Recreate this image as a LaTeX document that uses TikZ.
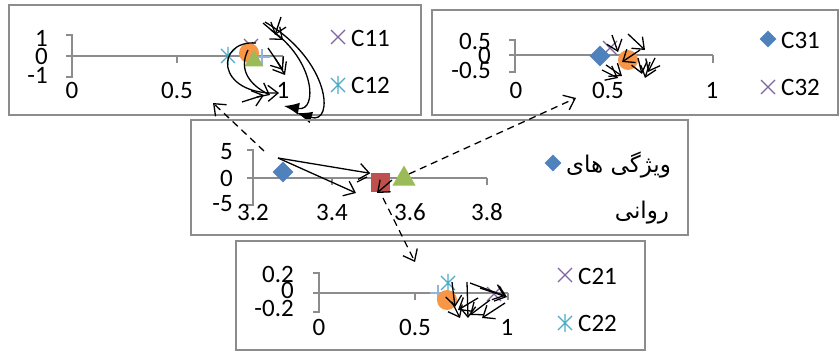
\documentclass[tikz,border=0pt]{standalone}
\usepackage{fontspec}
\setmainfont{Carlito}
\newfontfamily\arabicfont[Script=Arabic]{DejaVu Sans}
\TeXXeTstate=1
\usetikzlibrary{positioning,shapes.geometric,arrows.meta,calc}
\definecolor{exblue}{HTML}{4F81BD}
\definecolor{exred}{HTML}{C0504D}
\definecolor{exgreen}{HTML}{9BBB59}
\definecolor{expurple}{HTML}{8064A2}
\definecolor{exteal}{HTML}{4BACC6}
\definecolor{exorange}{HTML}{F79646}
\definecolor{exlight}{HTML}{95B3D7}
\definecolor{boxgray}{HTML}{8C8C8C}
\definecolor{axgray}{HTML}{8C8C8C}
\tikzset{
  chartbox/.style={draw=boxgray,line width=1.3pt},
  axisline/.style={draw=axgray,line width=1.3pt},
  lbl/.style={font=\fontsize{25}{28}\selectfont,inner sep=0pt},
  arlbl/.style={font=\arabicfont\fontsize{23}{26}\selectfont,inner sep=0pt},
  diam/.style={diamond,fill=exblue,minimum size=21pt,inner sep=0pt},
  sqmark/.style={rectangle,fill=exred,minimum size=19pt,inner sep=0pt},
  trimark/.style={regular polygon,regular polygon sides=3,fill=exgreen,minimum size=27pt,inner sep=0pt},
  dotmark/.style={circle,fill=exorange,minimum size=20pt,inner sep=0pt},
  barb/.style={-{Straight Barb[length=10pt,width=16pt]},line width=1.3pt},
  fat/.style={-{Latex[length=15pt,width=12pt]},line width=1.3pt},
  linkdash/.style={dash pattern=on 7pt off 5pt,line width=1.2pt},
  xmark/.pic={\draw[expurple,line width=1.3pt] (-7,-7)--(7,7) (-7,7)--(7,-7);},
  astmark/.pic={\draw[exteal,line width=1.3pt] (-7,-7)--(7,7) (-7,7)--(7,-7) (0,-9)--(0,9);},
  plusmark/.pic={\draw[exlight,line width=1.6pt] (-8,0)--(8,0) (0,-8)--(0,8);}
}
\begin{document}
\begin{tikzpicture}[x=1pt,y=-1pt]
  \useasboundingbox (0,0) rectangle (840,352);

  % chart C1
  \draw[chartbox] (9,5) rectangle (421,115);
  \draw[axisline] (66,35) -- (72,35) -- (72,77) -- (66,77);
  \draw[axisline] (66,56) -- (283,56) (177,56) -- (177,63) (283,56) -- (283,63);
  \node[lbl,anchor=east] (ay1) at (48,38) {1};
  \node[lbl,anchor=east] (ay0) at (48,56) {0};
  \node[lbl,anchor=east] (aym) at (48,75) {-1};
  \node[lbl] (ax0) at (72,90) {0};
  \node[lbl] (ax5) at (177,90) {0.5};
  \node[lbl] (ax1) at (283,90) {1};
  \pic at (251,46) {xmark};
  \pic at (262,57) {plusmark};
  \pic at (228,56) {astmark};
  \node[dotmark] (adot) at (249,53) {};
  \node[trimark,minimum size=22pt] (atri) at (254,61) {};
  \pic at (338,37) {xmark};
  \node[lbl,anchor=west] (aleg1) at (351,38) {C11};
  \pic at (338,85) {astmark};
  \node[lbl,anchor=west] (aleg2) at (351,85) {C12};
  \draw[fat] (265,22) .. controls (330,60) and (335,125) .. (297,113);
  \draw[fat] (271,30) .. controls (315,60) and (318,112) .. (284,106);
  \draw[barb] (256,43) .. controls (215,40) and (215,95) .. (279,93);
  \draw[barb] (248,50) .. controls (238,70) and (250,85) .. (270,95);
  \draw[barb] (242,102) -- (264,95);
  \draw[barb] (263,23) -- (283,40);
  \draw[barb] (281,17) -- (275,35);
  \draw[barb] (268,48) -- (283,70);
  \draw[barb] (275,58) -- (285,75);

  % chart C3
  \draw[chartbox] (432,10) rectangle (838,115);
  \draw[axisline] (509,40) -- (515,40) -- (515,72) -- (509,72);
  \draw[axisline] (509,55) -- (713,55) (713,55) -- (713,63);
  \node[lbl,anchor=east] (by1) at (491,41) {0.5};
  \node[lbl,anchor=east] (by0) at (491,55) {0};
  \node[lbl,anchor=east] (bym) at (491,70) {-0.5};
  \node[lbl] (bx0) at (516,90) {0};
  \node[lbl] (bx5) at (608,90) {0.5};
  \node[lbl] (bx1) at (712,90) {1};
  \pic at (610,48) {xmark};
  \node[diam] (bdiam) at (600,56) {};
  \node[dotmark] (bdot) at (628,60) {};
  \node[diam,minimum size=17pt] (bleg1) at (768,39) {};
  \node[lbl,anchor=west] (bleg1t) at (781,40) {C31};
  \pic at (768,87) {xmark};
  \node[lbl,anchor=west] (bleg2t) at (781,87) {C32};
  \draw[barb] (612,35) -- (618,52);
  \draw[barb] (628,34) -- (645,50);
  \draw[barb] (606,65) -- (622,76);
  \draw[barb] (602,70) -- (618,78);
  \draw[barb] (640,50) -- (622,62);
  \draw[barb] (650,62) -- (645,78);
  \draw[barb] (655,58) -- (648,72);
  \draw[barb] (638,58) -- (642,74);

  % chart main
  \draw[chartbox] (191,120) rectangle (688,235);
  \draw[axisline] (247,150) -- (253,150) -- (253,205) -- (247,205);
  \draw[axisline] (247,178) -- (487,178) (332,178) -- (332,185) (410,178) -- (410,185) (487,178) -- (487,185);
  \node[lbl,anchor=east] (cy1) at (233,152) {5};
  \node[lbl,anchor=east] (cy0) at (233,178) {0};
  \node[lbl,anchor=east] (cym) at (233,204) {-5};
  \node[lbl] (cx0) at (253,212) {3.2};
  \node[lbl] (cx1) at (332,212) {3.4};
  \node[lbl] (cx2) at (410,212) {3.6};
  \node[lbl] (cx3) at (487,212) {3.8};
  \node[diam] (cdiam) at (283,172) {};
  \node[sqmark] (csq) at (380,183) {};
  \node[trimark] (ctri) at (404,179) {};
  \node[diam,minimum size=17pt] (cleg) at (553,163) {};
  \node[arlbl,anchor=west] (clegt) at (566,165) {\beginR ویژگی های\endR};
  \node[arlbl] (clegb) at (642,213) {\beginR روانی\endR};
  \coordinate (cstart) at (278,158);
  \draw[barb] (cstart) -- (csq.north west);
  \draw[barb] (cstart) -- (356,193);
  \draw[barb] (392,180) -- (377,193);
  \draw[line width=1.3pt] (357,182) -- (367,177);

  % chart C2
  \draw[chartbox] (236,241) rectangle (645,350);
  \draw[axisline] (313,273) -- (319,273) -- (319,312) -- (313,312);
  \draw[axisline] (313,293) -- (508,293) (415,293) -- (415,300) (508,293) -- (508,300);
  \node[lbl,anchor=east] (dy1) at (294,274) {0.2};
  \node[lbl,anchor=east] (dy0) at (294,290) {0};
  \node[lbl,anchor=east] (dym) at (294,308) {-0.2};
  \node[lbl] (dx0) at (319,327) {0};
  \node[lbl] (dx5) at (415,327) {0.5};
  \node[lbl] (dx1) at (507,327) {1};
  \pic at (448,283) {astmark};
  \pic at (438,293) {plusmark};
  \node[dotmark] (ddot) at (447,300) {};
  \pic at (494,294) {xmark};
  \pic at (565,275) {xmark};
  \node[lbl,anchor=west] (dleg1) at (578,276) {C21};
  \pic at (565,323) {astmark};
  \node[lbl,anchor=west] (dleg2) at (578,323) {C22};
  \draw[barb] (452,282) -- (455,307);
  \draw[barb] (467,282) -- (468,318);
  \draw[barb] (470,283) -- (505,296);
  \draw[barb] (480,288) -- (507,297);
  \draw[barb] (478,298) -- (458,310);
  \draw[barb] (505,303) -- (482,318);
  \draw[barb] (490,300) -- (470,315);
  \draw[barb] (452,302) -- (460,318);

  % links between charts
  \coordinate (aend) at (213,103);
  \coordinate (bend) at (576,98);
  \coordinate (dend) at (415,262);
  \coordinate (cup) at (264,151);
  \coordinate (cdown) at (383,198);
  \draw[linkdash,barb] (cup) -- (aend);
  \draw[linkdash,barb] (ctri.north east) -- (bend);
  \draw[linkdash,barb] (cdown) -- (dend);
\end{tikzpicture}
\end{document}
